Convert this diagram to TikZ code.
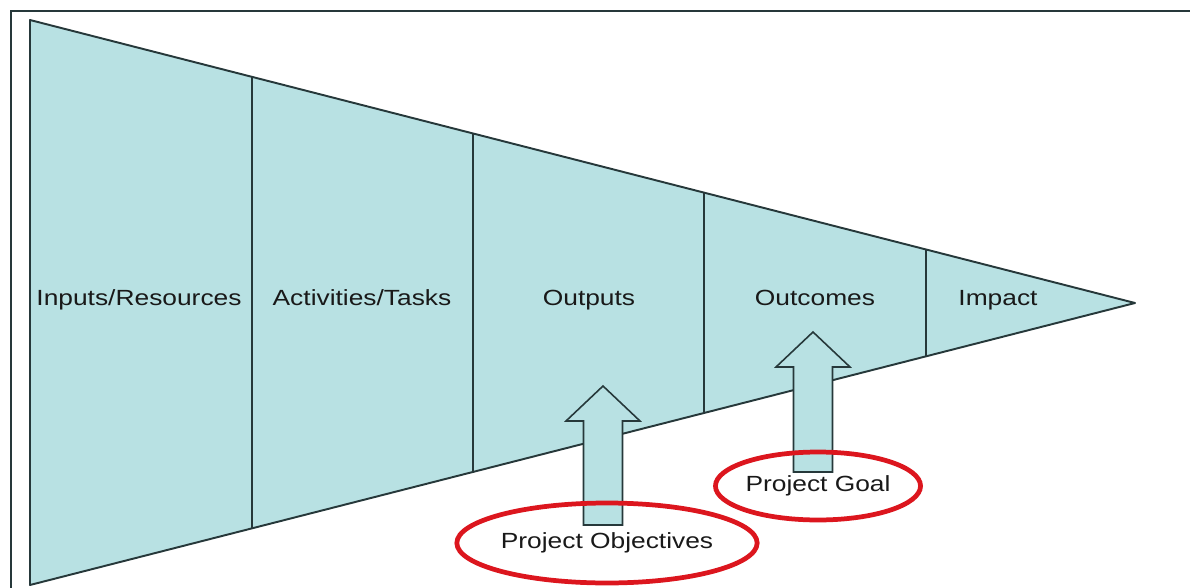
\documentclass[tikz,border=0pt]{standalone}
\usepackage{fontspec}
\setmainfont{Liberation Sans}
\usepackage{tikz}
\usetikzlibrary{calc,shapes.geometric}
\definecolor{funnel}{RGB}{184,225,227}
\definecolor{edge}{RGB}{38,56,58}
\definecolor{ring}{RGB}{220,22,30}
\newcommand{\wide}[1]{\scalebox{1.2}[1]{#1}}
% block arrow pointing up: x, bottom y, tip y
\newcommand{\upblock}[3]{%
  \draw[blockarrow] (#1-19.5,#2) -- (#1-19.5,#3+35) -- (#1-37,#3+35) -- (#1,#3)
    -- (#1+37,#3+35) -- (#1+19.5,#3+35) -- (#1+19.5,#2) -- cycle;}
\tikzset{
  stage/.style={anchor=base, font=\fontsize{12.5}{15}\selectfont, text=black!90},
  blockarrow/.style={fill=funnel, draw=edge, line width=0.9pt, line join=miter},
  goalring/.style={ellipse, draw=ring, line width=2.7pt, inner sep=0pt,
    font=\fontsize{12.5}{15}\selectfont, text=black!90}
}

\begin{document}
\begin{tikzpicture}[x=0.02cm, y=-0.02cm]
    \useasboundingbox (0,0) rectangle (1190,588);
    % Draw the frame
    \draw[edge, line width=1.2pt] (11,588) -- (11,11) -- (1190,11);
    % Draw the funnel
    \coordinate (top) at (30,20);
    \coordinate (bot) at (30,585);
    \coordinate (tip) at (1135,303);
    \draw[fill=funnel, draw=edge, line width=1.1pt, line join=round]
    (top) -- (tip) -- (bot) -- cycle;
    % Draw the dividers
    \foreach \t in {0.201,0.401,0.610,0.811}
      \draw[edge, line width=1.1pt] ($(top)!\t!(tip)$) -- ($(bot)!\t!(tip)$);
    % Label the stages
    \node[stage] (inputs) at (139,305) {\wide{Inputs/Resources}};
    \node[stage] (activities) at (362,305) {\wide{Activities/Tasks}};
    \node[stage] (outputs) at (589,305) {\wide{Outputs}};
    \node[stage] (outcomes) at (815,305) {\wide{Outcomes}};
    \node[stage] (impact) at (998,305) {\wide{Impact}};
    % Draw the block arrows
    \upblock{603}{525}{386}
    \upblock{813}{472}{332}
    % Circle the targets
    \node[goalring, minimum width=4.96cm, minimum height=1.6cm]
    (objectives) at (607,543) {\wide{Project Objectives}};
    \node[goalring, minimum width=3.68cm, minimum height=1.36cm]
    (goal) at (818,486) {\wide{Project Goal}};
\end{tikzpicture}
\end{document}
